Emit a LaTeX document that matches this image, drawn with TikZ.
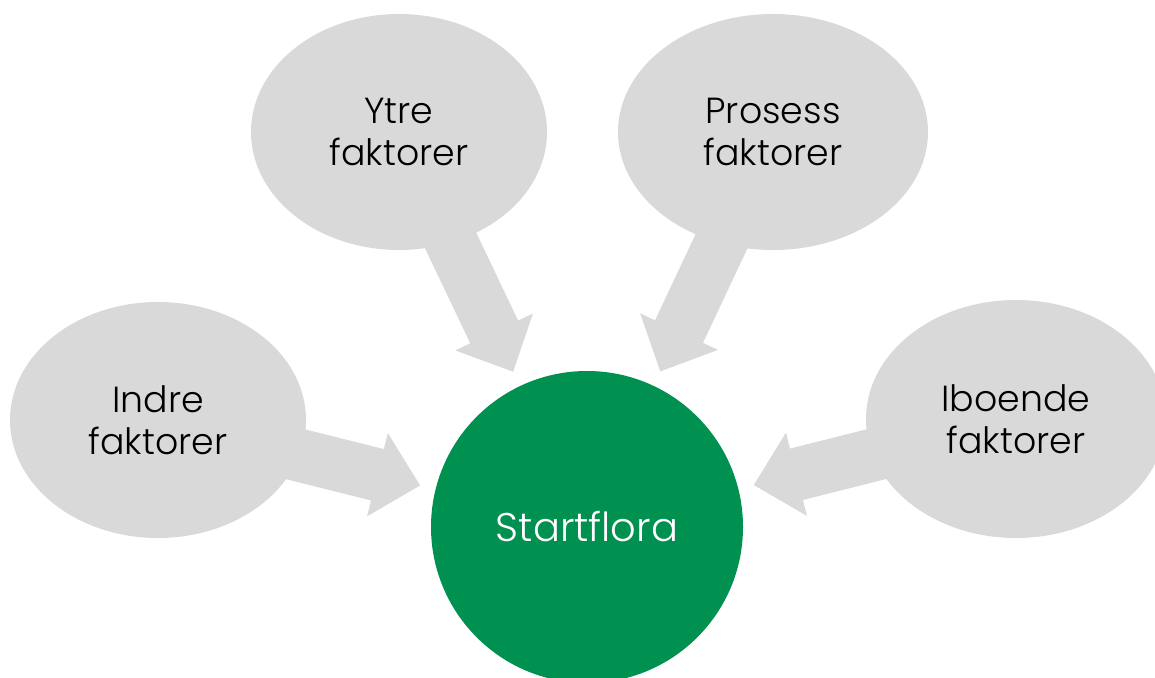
\documentclass[tikz,border=0pt]{standalone}
\usepackage{fontspec}
\setmainfont{Poppins Light}
\usetikzlibrary{shapes.geometric,calc}
\pgfdeclarelayer{background}
\pgfsetlayers{background,main}
\definecolor{bubblegray}{RGB}{217,217,217}
\definecolor{floragreen}{RGB}{0,144,80}
\tikzset{
  bubble/.style={ellipse, fill=bubblegray, inner sep=0pt, align=center,
    font=\fontsize{36.3}{42}\selectfont},
  core/.style={circle, fill=floragreen, minimum size=312pt, inner sep=0pt,
    text=white, font=\fontsize{40}{46}\selectfont},
  arrowfill/.style={fill=bubblegray}
}
\newcommand{\fatarrow}[2]{%
  \coordinate (tip-#1) at ($(#2.center)!172pt!(#1.center)$);
  \coordinate (hb-#1) at ($(tip-#1)!44pt!(#1.center)$);
  \fill[arrowfill] ($(#1.center)!26.5pt!-90:(hb-#1)$)
    -- ($(hb-#1)!26.5pt!90:(#1.center)$)
    -- ($(hb-#1)!43pt!90:(#1.center)$)
    -- (tip-#1)
    -- ($(hb-#1)!43pt!-90:(#1.center)$)
    -- ($(hb-#1)!26.5pt!-90:(#1.center)$)
    -- ($(#1.center)!26.5pt!90:(hb-#1)$) -- cycle;
}
\begin{document}
\begin{tikzpicture}[x=1pt,y=-1pt]
  \useasboundingbox (0,0) rectangle (1155,677);
  \clip (0,0) rectangle (1155,677);
  \node[core] (start) at (587,527) {Startflora};
  \node[bubble, minimum width=296pt, minimum height=236pt] (ytre) at (399,132) {Ytre\\faktorer};
  \node[bubble, minimum width=310pt, minimum height=236pt] (prosess) at (773,132) {Prosess\\faktorer};
  \node[bubble, minimum width=296pt, minimum height=236pt] (indre) at (158,420) {Indre\\faktorer};
  \node[bubble, minimum width=300pt, minimum height=238pt] (iboende) at (1016,419) {Iboende\\faktorer};
  \begin{pgfonlayer}{background}
    \fatarrow{ytre}{start}
    \fatarrow{prosess}{start}
    \fatarrow{indre}{start}
    \fatarrow{iboende}{start}
  \end{pgfonlayer}
\end{tikzpicture}
\end{document}
